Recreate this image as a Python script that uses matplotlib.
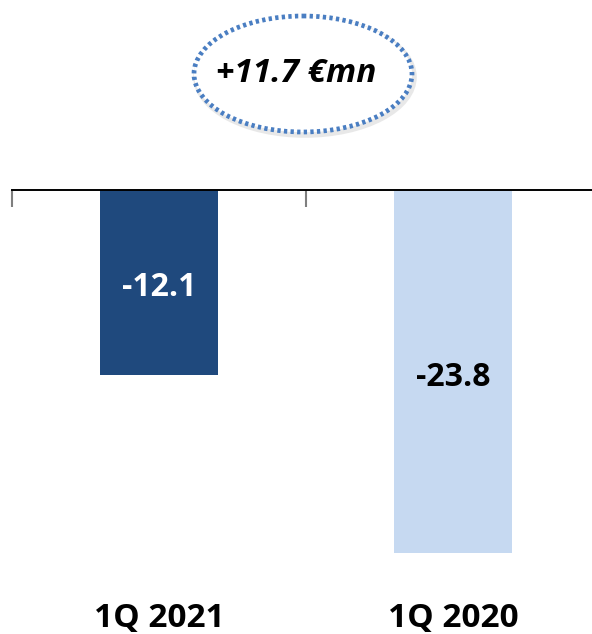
import matplotlib.pyplot as plt
from matplotlib.patches import Ellipse
from matplotlib.transforms import blended_transform_factory

# ── data ─────────────────────────────────────────────────────────────────────
categories = ["1Q 2021", "1Q 2020"]
values     = [-12.1, -23.8]
bar_colors = ["#1F497D", "#C6D9F1"]
lbl_colors = ["white", "black"]
delta_text = "+11.7 €mn"

plt.rcParams["font.family"] = ["Open Sans", "DejaVu Sans"]

W, H, DPI = 592, 634, 100
fig = plt.figure(figsize=(W / DPI, H / DPI), dpi=DPI)

# plot area: zero line at y=190 px, category bands 12 px -> 600 px
ymin = -25.5
px_per_unit = 15.27
ax_h = -ymin * px_per_unit
ax = fig.add_axes([12 / W, (H - 190 - ax_h) / H, 588 / W, ax_h / H])
ax.set_xlim(-0.5, 1.5)
ax.set_ylim(ymin, 0)

x = list(range(len(categories)))
ax.bar(x, values, width=0.4, color=bar_colors, zorder=2)

for xi, v, c in zip(x, values, lbl_colors):
    ax.annotate(f"{v:.1f}", (xi, v / 2), xytext=(0, -4), textcoords="offset points",
                ha="center", va="center", color=c, fontsize=23, fontweight="bold")

# category labels below the plot
trans = blended_transform_factory(ax.transData, fig.transFigure)
for xi, cat in zip(x, categories):
    ax.text(xi, (H - 618) / H, cat, transform=trans, ha="center", va="center",
            fontsize=24, fontweight="bold", color="black")

# zero line on top with boundary ticks pointing down
for s in ["left", "right", "bottom"]:
    ax.spines[s].set_visible(False)
ax.spines["top"].set_linewidth(1.4)
ax.spines["top"].set_color("black")
ax.xaxis.tick_top()
ax.set_xticks([-0.5, 0.5, 1.5])
ax.set_xticklabels([])
ax.tick_params(axis="x", direction="in", length=12, width=1.5, color="#7f7f7f")
ax.set_yticks([])

# delta callout (dotted ellipse)
ov = fig.add_axes([0, 0, 1, 1], facecolor="none")
ov.set_xlim(0, W)
ov.set_ylim(H, 0)
ov.axis("off")
shadow = Ellipse((305, 77), 218, 116, fill=False, edgecolor="#d9d9d9",
                 linewidth=4, alpha=0.6)
ov.add_patch(shadow)
ell = Ellipse((303, 74), 218, 116, facecolor="white", edgecolor="#4A7EC2",
              linewidth=3.4, linestyle=(0, (0.7, 0.7)))
ov.add_patch(ell)
ov.text(296, 74, delta_text, ha="center", va="center", fontsize=24,
        fontweight="bold", fontstyle="italic", color="black")

fig.savefig("out.png", dpi=DPI)
